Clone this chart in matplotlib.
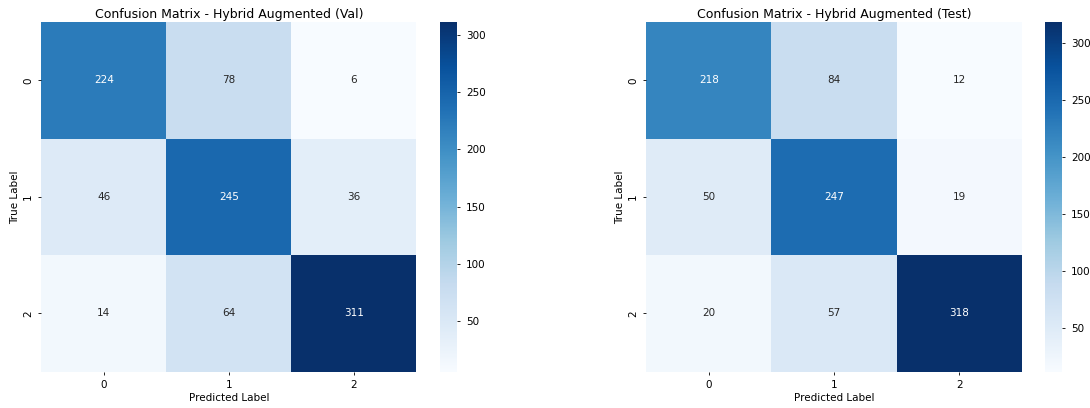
import numpy as np
import matplotlib
matplotlib.use("Agg")
import matplotlib.pyplot as plt
import seaborn as sns

# confusion matrices (rows = true label, cols = predicted label)
class_labels = ["0", "1", "2"]
cm_val = np.array([[224, 78, 6],
                   [46, 245, 36],
                   [14, 64, 311]])
cm_test = np.array([[218, 84, 12],
                    [50, 247, 19],
                    [20, 57, 318]])

titles = ["Confusion Matrix - Hybrid Augmented (Val)",
          "Confusion Matrix - Hybrid Augmented (Test)"]

fs = 7.5
fig = plt.figure(figsize=(10.9, 4.08), dpi=100)

# [heatmap axes, colorbar axes] for each panel
layout = [
    ([0.0379, 0.089, 0.3440, 0.8565], [0.4037, 0.089, 0.0160, 0.8565]),
    ([0.5929, 0.089, 0.3444, 0.8565], [0.9587, 0.089, 0.0160, 0.8565]),
]

for cm, title, (hm_pos, cb_pos) in zip([cm_val, cm_test], titles, layout):
    ax = fig.add_axes(hm_pos)
    cax = fig.add_axes(cb_pos)
    sns.heatmap(cm, annot=True, fmt="d", cmap="Blues", ax=ax, cbar_ax=cax,
                xticklabels=class_labels, yticklabels=class_labels,
                annot_kws={"fontsize": fs})
    ax.set_title(title, fontsize=9.0, pad=3.3)
    ax.set_xlabel("Predicted Label", fontsize=fs, labelpad=2)
    ax.set_ylabel("True Label", fontsize=fs, labelpad=2)
    ax.tick_params(labelsize=fs, length=2.5, width=0.6)
    cax.tick_params(labelsize=fs, length=2.5, width=0.6)

plt.savefig("out.png", dpi=100)
plt.close()
